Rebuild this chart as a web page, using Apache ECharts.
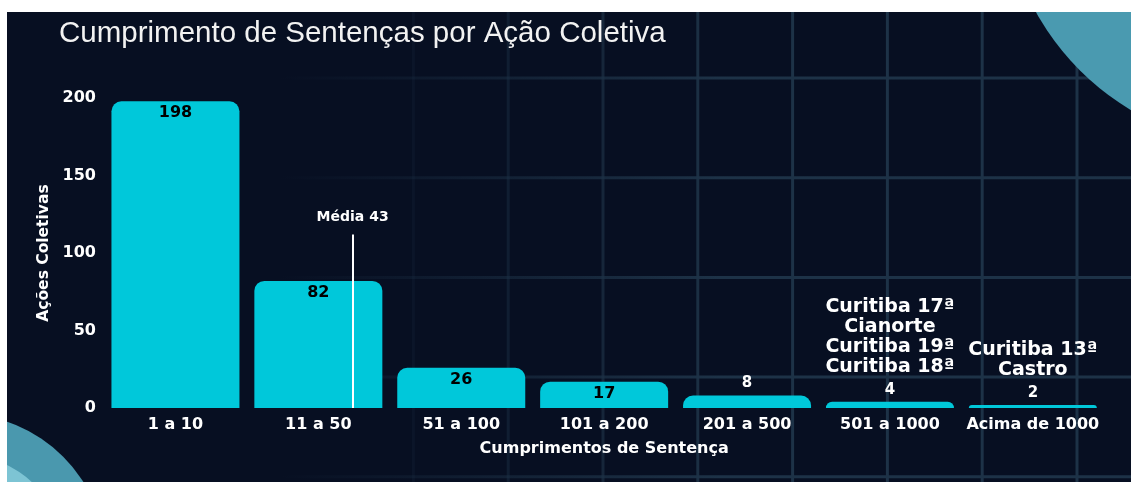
<!DOCTYPE html>
<html><head><meta charset="utf-8">
<script src="https://cdn.jsdelivr.net/npm/echarts@6/dist/echarts.min.js"></script>
<style>html,body{margin:0;padding:0;background:#fff}#c{width:1131px;height:482px}</style>
</head><body><div id="c"></div>
<script>
const categories = ['1 a 10','11 a 50','51 a 100','101 a 200','201 a 500','501 a 1000','Acima de 1000'];
const values = [198, 82, 26, 17, 8, 4, 2];
const annotations = ['', '', '', '', '', 'Curitiba 17ª\nCianorte\nCuritiba 19ª\nCuritiba 18ª', 'Curitiba 13ª\nCastro'];
const yTicks = [0, 50, 100, 150, 200];
const mediaLabel = 'Média 43';
const mediaPos = 1.74;   // position of the mean marker on the category band scale
const mediaTop = 112;    // top of the mean marker in y units

const W = 1131, H = 482;
const FONT = 'DejaVu Sans';
const gridColor = '#1d3247';

// decorative background
const bg = [];
bg.push({type:'rect', shape:{x:0,y:0,width:W,height:H}, style:{fill:'#070f22'}});
for (let x = 1077; x > 0; x -= 94.8) {
  const a = Math.max(0, Math.min(1, (x - 330) / 400));
  if (a <= 0) continue;
  bg.push({type:'line', shape:{x1:x,y1:0,x2:x,y2:H}, style:{stroke:gridColor, lineWidth:3, opacity:a}});
}
for (let y = 78; y < H; y += 99.7) {
  bg.push({type:'line', shape:{x1:0,y1:y,x2:W,y2:y}, style:{
    stroke:{type:'linear', x:280, y:0, x2:720, y2:0, global:true,
      colorStops:[{offset:0,color:'rgba(29,50,71,0)'},{offset:1,color:gridColor}]},
    lineWidth:3}});
}
bg.push({type:'circle', shape:{cx:1265, cy:-115, r:262}, style:{fill:'#4a9ab0'}});
bg.push({type:'circle', shape:{cx:-40, cy:560, r:146}, style:{fill:'#4a98ae'}});
bg.push({type:'circle', shape:{cx:-40, cy:560, r:106}, style:{fill:'#7dc4d4'}});
bg.push({type:'rect', shape:{x:0,y:0,width:W,height:12}, style:{fill:'#ffffff'}});
bg.push({type:'rect', shape:{x:0,y:0,width:7,height:H}, style:{fill:'#ffffff'}});

const barData = values.map((v, i) => {
  if (v >= 15) {
    return {value: v, label: {show: true, position: 'insideTop', distance: 4,
      color: '#000', fontFamily: FONT, fontWeight: 'bold', fontSize: 16}};
  }
  const ann = annotations[i] ? annotations[i].split('\n').map(s => '{n|' + s + '}').join('\n') + '\n' : '';
  return {value: v, label: {show: true, position: 'top', distance: -1,
    formatter: ann + '{v|' + v + '}',
    rich: {
      n: {color: '#fff', fontFamily: FONT, fontWeight: 'bold', fontSize: 19, lineHeight: 20, align: 'center'},
      v: {color: '#fff', fontFamily: FONT, fontWeight: 'bold', fontSize: 15, lineHeight: 26, align: 'center'}
    }}};
});

const chart = echarts.init(document.getElementById('c'));
chart.setOption({
  animation: false,
  backgroundColor: '#ffffff',
  graphic: {elements: bg},
  title: {text: 'Cumprimento de Sentenças por Ação Coletiva', left: 54, top: 14,
    textStyle: {color: '#f2f2f2', fontFamily: 'Liberation Sans', fontWeight: 'normal', fontSize: 29.5}},
  grid: {left: 104, right: 26.7, top: 98.1, bottom: 74},
  xAxis: [{
    type: 'category', data: categories,
    axisLine: {show: false}, axisTick: {show: false},
    axisLabel: {color: '#fff', fontFamily: FONT, fontWeight: 'bold', fontSize: 16, margin: 9, interval: 0},
    name: 'Cumprimentos de Sentença', nameLocation: 'middle', nameGap: 33,
    nameTextStyle: {color: '#fff', fontFamily: FONT, fontWeight: 'bold', fontSize: 16}
  }, {
    type: 'value', min: 0, max: categories.length, show: false
  }],
  yAxis: {
    type: 'value', min: yTicks[0], max: yTicks[yTicks.length - 1], interval: yTicks[1] - yTicks[0],
    splitLine: {show: false}, axisLine: {show: false}, axisTick: {show: false},
    axisLabel: {color: '#fff', fontFamily: FONT, fontWeight: 'bold', fontSize: 16, margin: 8},
    name: 'Ações Coletivas', nameLocation: 'middle', nameGap: 44, nameRotate: 90,
    nameTextStyle: {color: '#fff', fontFamily: FONT, fontWeight: 'bold', fontSize: 15.5}
  },
  series: [{
    type: 'bar', data: barData, barWidth: 128,
    itemStyle: {color: '#00c8da', borderRadius: [10, 10, 0, 0]}
  }, {
    type: 'line', xAxisIndex: 1, data: [[mediaPos, 0]], symbol: 'none', silent: true,
    lineStyle: {opacity: 0},
    markLine: {
      silent: true, symbol: 'none',
      lineStyle: {color: '#fff', width: 2, type: 'solid'},
      label: {show: true, position: 'end', distance: 10, formatter: mediaLabel,
        color: '#fff', fontFamily: FONT, fontWeight: 'bold', fontSize: 14},
      data: [[{coord: [mediaPos, 0]}, {coord: [mediaPos, mediaTop]}]]
    }
  }]
});
</script></body></html>
